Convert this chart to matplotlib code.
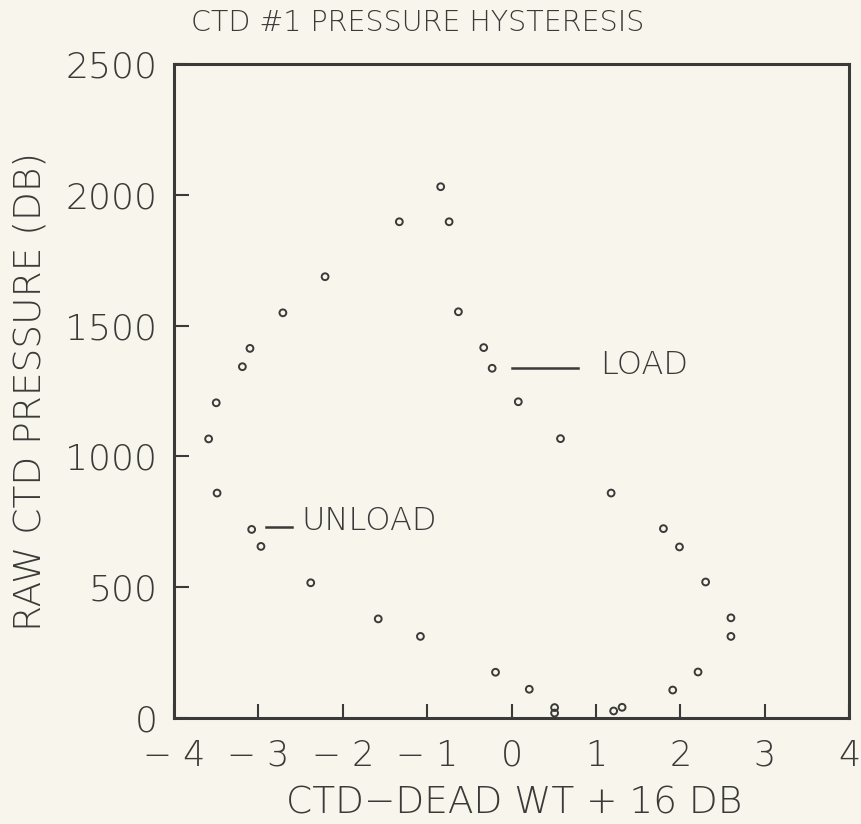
import matplotlib
matplotlib.use("Agg")
import matplotlib.pyplot as plt

# CTD #1 pressure hysteresis
unload_x = [-1.33, -2.21, -2.71, -3.10, -3.19, -3.50, -3.59, -3.49, -3.08, -2.97,
            -2.38, -1.58, -1.08, -0.19, 0.21, 0.51, 0.51]
unload_y = [1897, 1687, 1549, 1413, 1343, 1205, 1067, 860, 721, 656,
            517, 379, 312, 175, 110, 40, 19]
load_x = [1.21, 1.31, 1.91, 2.21, 2.60, 2.60, 2.30, 1.99, 1.80, 1.18,
          0.58, 0.08, -0.23, -0.33, -0.63, -0.74, -0.84]
load_y = [27, 41, 107, 176, 312, 383, 520, 654, 724, 860,
          1068, 1209, 1337, 1416, 1553, 1897, 2031]

x_ticks = [-4, -3, -2, -1, 0, 1, 2, 3, 4]
y_ticks = [0, 500, 1000, 1500, 2000, 2500]

ink = "#3a3a38"
paper = "#f8f6ec"

plt.rcParams["font.family"] = ["DejaVu Sans"]
plt.rcParams["font.weight"] = "ultralight"

fig = plt.figure(figsize=(8.62, 8.24), dpi=100, facecolor=paper)
ax = fig.add_axes([0.2019, 0.1286, 0.7831, 0.7937], facecolor=paper)

marker_style = dict(marker="o", s=24, facecolors="none", edgecolors=ink,
                    linewidths=1.4, clip_on=False, zorder=3)
ax.scatter(unload_x, unload_y, **marker_style)
ax.scatter(load_x, load_y, **marker_style)

ax.set_xlim(-4, 4)
ax.set_ylim(0, 2500)
ax.set_xticks(x_ticks)
ax.set_yticks(y_ticks)
ax.set_xticklabels([str(t).replace("-", "\u2212 ") for t in x_ticks])

for s in ax.spines.values():
    s.set_color(ink)
    s.set_linewidth(2.2)

ax.tick_params(axis="x", direction="in", length=10, width=1.5, color=ink,
               labelsize=25, labelcolor=ink, pad=15)
ax.tick_params(axis="y", direction="in", length=11, width=1.5, color=ink,
               labelsize=26, labelcolor=ink, pad=12)

# legend-like labels drawn inside the plot
ax.plot([0.01, 0.79], [1337, 1337], color=ink, lw=1.8)
ax.text(1.05, 1350, "LOAD", fontsize=23, color=ink, va="center", ha="left")
ax.plot([-2.91, -2.60], [731, 731], color=ink, lw=1.8)
ax.text(-2.49, 752, "UNLOAD", fontsize=23, color=ink, va="center", ha="left")

fig.text(0.485, 0.972, "CTD #1 PRESSURE HYSTERESIS", fontsize=20.5, color=ink,
         ha="center", va="center")
fig.text(0.035, 0.525, "RAW CTD PRESSURE (DB)", fontsize=27, color=ink,
         ha="center", va="center", rotation=90)
fig.text(0.597, 0.026, "CTD\u2212DEAD WT + 16 DB", fontsize=27, color=ink,
         ha="center", va="center")

fig.savefig("out.png", dpi=100, facecolor=paper)
